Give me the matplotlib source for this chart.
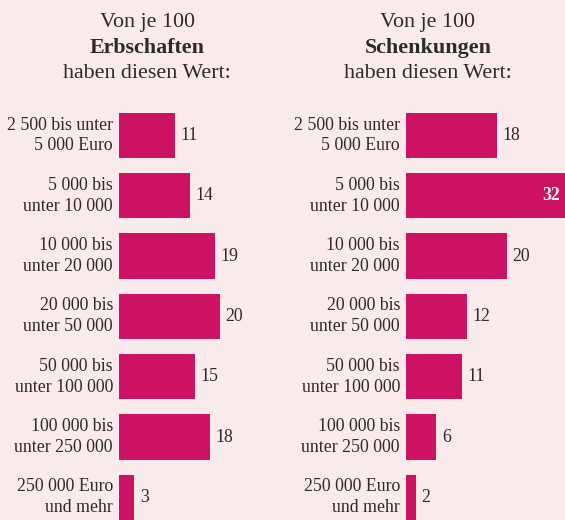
import matplotlib.pyplot as plt

# Kategorien und Werte (von je 100)
labels = ['2 500 bis unter\n5 000 Euro', '5 000 bis\nunter 10 000', '10 000 bis\nunter 20 000',
          '20 000 bis\nunter 50 000', '50 000 bis\nunter 100 000', '100 000 bis\nunter 250 000',
          '250 000 Euro\nund mehr']
erbschaften = [11, 14, 19, 20, 15, 18, 3]
schenkungen = [18, 32, 20, 12, 11, 6, 2]
titles = ['Erbschaften', 'Schenkungen']

bg = '#f9eaeb'
bar_color = '#cd1264'
text_color = '#2b2b2b'
plt.rcParams['font.family'] = ['Liberation Serif', 'DejaVu Serif']

W, H = 565, 520
fig = plt.figure(figsize=(W / 100, H / 100), dpi=100)
fig.patch.set_facecolor(bg)

px_per_unit = 5.05
row_pitch = 60.3
first_center = 135.5
ax_top = 105


def draw_panel(left_px, width_px, values, title, title_x):
    ax = fig.add_axes([left_px / W, 0, width_px / W, (H - ax_top) / H])
    ax.set_facecolor('none')
    ax.set_xlim(0, width_px / px_per_unit)
    ax.set_ylim((H - first_center) / row_pitch, (ax_top - first_center) / row_pitch)
    ypos = list(range(len(values)))
    ax.barh(ypos, values, height=0.75, color=bar_color)
    for y, v, lab in zip(ypos, values, labels):
        ax.text(-1.2, y, lab, ha='right', va='center', fontsize=12.8,
                color=text_color, linespacing=1.3, clip_on=False)
        if v >= 30:
            ax.text(v - 1.6, y, str(v), ha='right', va='center', fontsize=12.8,
                    color='white', fontweight='bold', clip_on=False)
        else:
            ax.text(v + 1.1, y, str(v), ha='left', va='center', fontsize=12.8,
                    color=text_color)
    ax.axis('off')
    fig.text(title_x / W, 1 - 27 / H, 'Von je 100', ha='center', va='baseline',
             fontsize=15.8, color=text_color)
    fig.text(title_x / W, 1 - 53 / H, title, ha='center', va='baseline',
             fontsize=15.8, fontweight='bold', color=text_color)
    fig.text(title_x / W, 1 - 78 / H, 'haben diesen Wert:', ha='center', va='baseline',
             fontsize=15.8, color=text_color)


draw_panel(119, 161, erbschaften, titles[0], 147)
draw_panel(406, 159, schenkungen, titles[1], 428)

fig.savefig('out.png', dpi=100, facecolor=bg)
